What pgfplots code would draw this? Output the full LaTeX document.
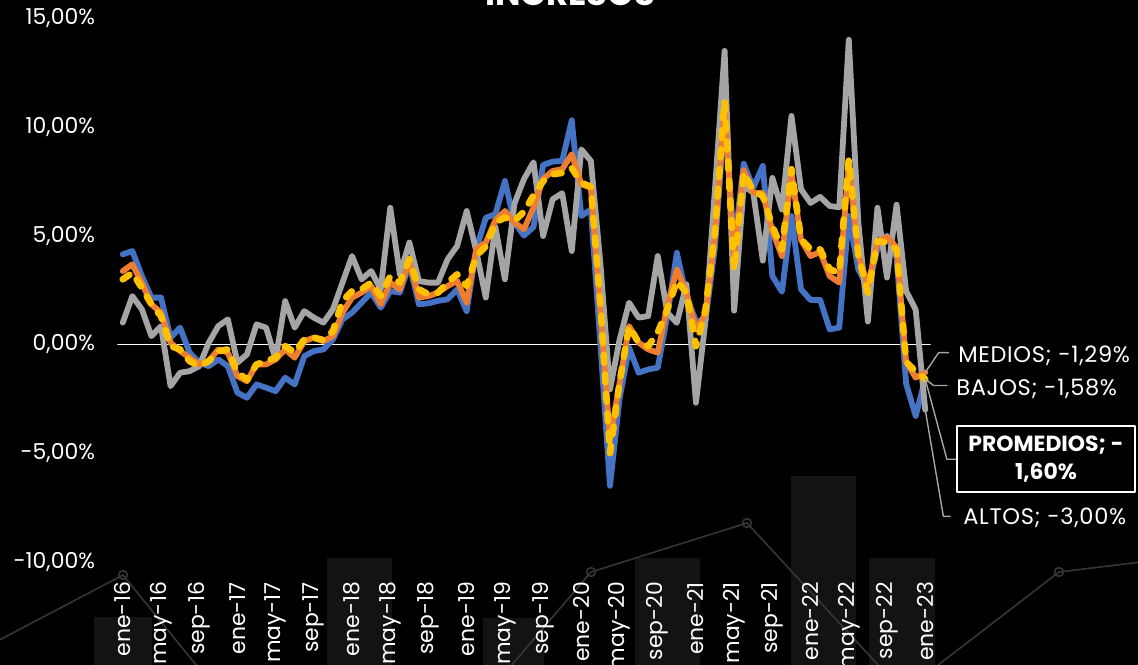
\documentclass[border=0pt]{standalone}
\usepackage{pgfplots}
\pgfplotsset{compat=1.18}
\usepackage{pgfplotstable}
\usepackage{fontspec}
\setmainfont{Poppins}
\newfontfamily\lfont{Poppins}[LetterSpace=3]
\definecolor{cblue}{HTML}{4472C4}
\definecolor{corange}{HTML}{ED7D31}
\definecolor{cgrey}{HTML}{A5A5A5}
\definecolor{cyellow}{HTML}{FFC000}
\definecolor{decobar}{HTML}{131313}
\definecolor{decoline}{HTML}{363636}
\definecolor{leader}{HTML}{A6A6A6}

\pgfplotstableread{
i bajos medios altos prom
0 4.14 3.37 1.00 2.99
1 4.29 3.68 2.22 3.29
2 3.14 2.83 1.61 2.60
3 2.15 1.84 0.38 1.84
4 2.15 1.46 0.84 1.30
5 0.31 0.08 -1.92 -0.08
6 0.77 -0.31 -1.30 -0.23
7 -0.38 -0.61 -1.23 -0.77
8 -0.84 -0.92 -1.00 -1.00
9 -1.00 -0.77 0.08 -0.77
10 -0.69 -0.23 0.84 -0.31
11 -1.00 -0.38 1.15 -0.23
12 -2.22 -1.46 -0.84 -1.30
13 -2.45 -1.69 -0.46 -1.61
14 -1.84 -0.92 0.92 -0.92
15 -1.99 -0.92 0.77 -0.77
16 -2.15 -0.69 -0.69 -0.61
17 -1.53 -0.23 1.99 -0.08
18 -1.84 -0.61 0.77 -0.38
19 -0.54 0.15 1.53 0.23
20 -0.31 0.31 1.23 0.31
21 -0.23 0.15 1.00 0.20
22 0.23 0.38 1.61 0.61
23 1.15 1.46 2.84 1.99
24 1.46 2.15 4.06 2.45
25 1.92 2.38 2.99 2.53
26 2.38 2.68 3.37 2.84
27 1.69 1.84 2.53 2.22
28 2.45 2.84 6.28 3.14
29 2.38 2.53 3.22 2.84
30 3.68 3.83 4.68 3.91
31 1.84 2.15 2.91 2.53
32 1.89 2.22 2.84 2.30
33 2.00 2.38 2.84 2.38
34 2.07 2.68 3.91 2.84
35 2.53 2.91 4.52 3.22
36 1.53 1.92 6.13 2.68
37 4.37 4.37 4.29 4.06
38 5.82 4.68 2.15 4.50
39 5.98 5.70 5.40 5.60
40 7.51 6.13 2.99 5.83
41 5.60 5.60 6.47 5.67
42 5.00 5.29 7.60 6.10
43 5.40 6.30 8.37 6.85
44 8.25 7.60 4.98 7.50
45 8.40 7.97 6.67 7.82
46 8.43 8.05 6.95 7.88
47 10.30 8.74 4.29 8.10
48 5.90 7.36 8.96 7.43
49 6.20 7.20 8.43 7.24
50 0.00 1.50 3.70 1.80
51 -6.50 -4.37 -2.07 -5.00
52 -2.50 -1.80 0.20 -1.76
53 -0.15 0.84 1.92 0.84
54 -1.30 0.08 1.23 0.08
55 -1.15 -0.23 1.30 -0.08
56 -1.07 -0.38 4.06 0.54
57 1.30 1.76 1.46 1.61
58 4.21 3.45 0.99 2.91
59 2.22 2.38 2.76 2.38
60 1.07 0.69 -2.68 -0.08
61 1.10 1.40 1.10 1.60
62 4.50 5.00 7.20 5.20
63 10.50 10.90 13.49 11.20
64 4.50 4.00 1.55 3.40
65 8.30 8.00 7.28 7.90
66 7.20 6.97 6.97 7.05
67 8.20 6.95 3.85 6.82
68 3.14 5.20 7.65 5.44
69 2.42 4.06 6.20 4.37
70 5.90 7.90 10.50 8.05
71 2.53 4.80 7.13 4.83
72 2.04 4.06 6.50 4.37
73 2.04 4.25 6.78 4.37
74 0.69 3.14 6.36 3.45
75 0.77 2.84 6.30 3.29
76 5.90 8.30 14.00 8.51
77 3.45 4.10 5.60 4.06
78 2.60 2.70 1.05 2.38
79 4.40 4.70 6.28 4.75
80 5.00 4.95 3.07 4.67
81 4.00 4.45 6.42 4.37
82 -1.80 -0.80 2.45 -0.80
83 -3.29 -1.53 1.60 -1.25
84 -1.58 -1.29 -3.00 -1.60
}\datatable

\begin{document}
\begin{tikzpicture}
\useasboundingbox (0,0) rectangle (569bp,332.5bp);
\fill[black] (0,0) rectangle (569bp,332.5bp);
\clip (0,0) rectangle (569bp,332.5bp);

% decorative background (slide template), in image pixel units
\begin{axis}[at={(0,0)}, anchor=south west, scale only axis,
  width=569bp, height=332.5bp, xmin=0, xmax=1138, ymin=0, ymax=665,
  y dir=reverse, hide axis, clip=true]
  \addplot[fill=decobar, draw=none] coordinates {(94,665) (94,617) (152,617) (152,665)} -- cycle;
  \addplot[fill=decobar, draw=none] coordinates {(327,665) (327,558) (392,558) (392,665)} -- cycle;
  \addplot[fill=decobar, draw=none] coordinates {(483,665) (483,618) (544,618) (544,665)} -- cycle;
  \addplot[fill=decobar, draw=none] coordinates {(635,665) (635,558) (700,558) (700,665)} -- cycle;
  \addplot[fill=decobar, draw=none] coordinates {(791,665) (791,476) (856,476) (856,665)} -- cycle;
  \addplot[fill=decobar, draw=none] coordinates {(869,665) (869,558) (935,558) (935,665)} -- cycle;
  \addplot[decoline, line width=0.8bp, mark=o, mark size=2.2bp, mark options={fill=black}]
    coordinates {(-33,657) (123,575) (279,767) (435,755) (591,572) (747,523) (903,692) (1059,572) (1215,553)};
\end{axis}

\begin{axis}[at={(59bp,51.5bp)}, anchor=south west, scale only axis,
  width=406bp, height=272bp,
  xmin=-0.5, xmax=84.5, ymin=-10, ymax=15,
  axis line style={draw=none}, tick style={draw=none}, major tick length=0pt,
  clip=false,
  ytick={-10,-5,0,5,10,15},
  yticklabels={{-10,00\%},{-5,00\%},{0,00\%},{5,00\%},{10,00\%},{15,00\%}},
  xtick={0,4,...,84},
  xticklabels={ene-16,may-16,sep-16,ene-17,may-17,sep-17,ene-18,may-18,sep-18,ene-19,may-19,sep-19,ene-20,may-20,sep-20,ene-21,may-21,sep-21,ene-22,may-22,sep-22,ene-23},
  yticklabel style={font=\fontsize{11}{13}\selectfont, text=white},
  xticklabel style={font=\fontsize{11}{13}\selectfont, text=white, rotate=90, anchor=east},
  xticklabel shift=6.5bp,
  yticklabel shift=8bp,
  line join=round, line cap=round,
]
  \addplot[white, line width=0.8bp] coordinates {(-0.5,0) (84.5,0)};
  \addplot[cblue, line width=2.9bp] table[x=i, y=bajos] {\datatable};
  \addplot[cgrey, line width=2.9bp] table[x=i, y=altos] {\datatable};
  \addplot[corange, line width=2.9bp] table[x=i, y=medios] {\datatable};
  \addplot[cyellow, line width=3.3bp, dash pattern=on 4bp off 5.8bp] table[x=i, y=prom] {\datatable};

  % leader lines
  \draw[leader, line width=0.7bp] (axis cs:84,-1.29) -- (axis cs:85.40,-0.38) -- (axis cs:86.45,-0.38);
  \draw[leader, line width=0.7bp] (axis cs:84,-1.58) -- (axis cs:84.87,-1.89) -- (axis cs:86.27,-1.89);
  \draw[leader, line width=0.7bp] (axis cs:84,-1.60) -- (axis cs:86.27,-5.28) -- (axis cs:87.35,-5.28);
  \draw[leader, line width=0.7bp] (axis cs:84,-3.00) -- (axis cs:85.90,-7.90) -- (axis cs:86.60,-7.90);

  \node[anchor=west, text=white, inner sep=0pt, font=\lfont\fontsize{11.3}{13}\selectfont] at (axis cs:87.43,-0.51) {MEDIOS; -1,29\%};
  \node[anchor=west, text=white, inner sep=0pt, font=\lfont\fontsize{11.3}{13}\selectfont] at (axis cs:87.22,-2.02) {BAJOS; -1,58\%};
  \node[draw=white, line width=0.9bp, fill=black, text=white, align=center,
        minimum width=89bp, minimum height=33bp, inner sep=1bp,
        font=\bfseries\fontsize{11}{14}\selectfont] at (axis cs:96.64,-5.28) {PROMEDIOS; -\\1,60\%};
  \node[anchor=west, text=white, inner sep=0pt, font=\lfont\fontsize{11.3}{13}\selectfont] at (axis cs:87.95,-7.95) {ALTOS; -3,00\%};
\end{axis}

\node[anchor=base, text=white, font=\bfseries\fontsize{17}{20}\selectfont] at (285bp,329.5bp) {INGRESOS};
\end{tikzpicture}
\end{document}
